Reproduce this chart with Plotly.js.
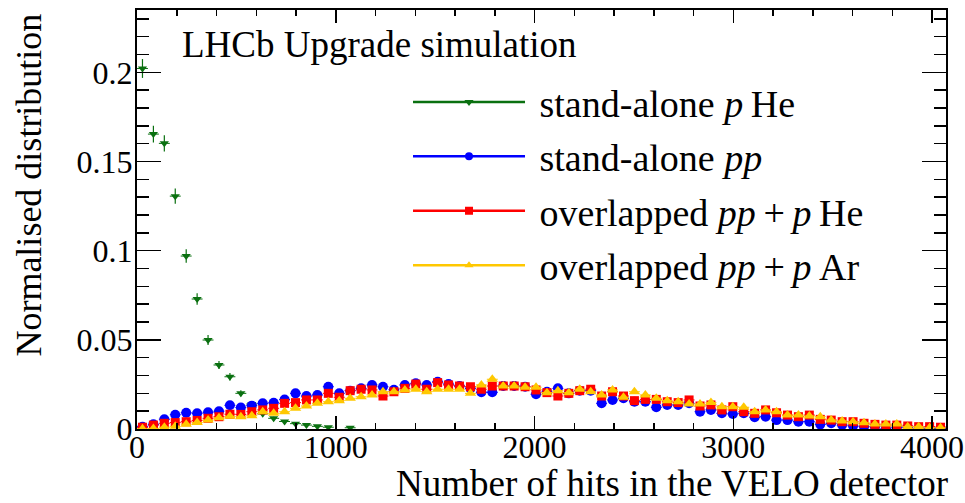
<!DOCTYPE html>
<html><head><meta charset="utf-8">
<script src="https://cdn.plot.ly/plotly-3.0.1.min.js"></script>
<style>body{margin:0;background:#fff}#chart{width:965px;height:503px}</style>
</head><body><div id="chart"></div>
<script>
// Bin centres (bin width 55 hits, 74 bins from 0 to 4070)
const binCenters = [27.5, 82.5, 137.5, 192.5, 247.5, 302.5, 357.5, 412.5, 467.5, 522.5,
  577.5, 632.5, 687.5, 742.5, 797.5, 852.5, 907.5, 962.5, 1017.5, 1072.5,
  1127.5, 1182.5, 1237.5, 1292.5, 1347.5, 1402.5, 1457.5, 1512.5, 1567.5, 1622.5,
  1677.5, 1732.5, 1787.5, 1842.5, 1897.5, 1952.5, 2007.5, 2062.5, 2117.5, 2172.5,
  2227.5, 2282.5, 2337.5, 2392.5, 2447.5, 2502.5, 2557.5, 2612.5, 2667.5, 2722.5,
  2777.5, 2832.5, 2887.5, 2942.5, 2997.5, 3052.5, 3107.5, 3162.5, 3217.5, 3272.5,
  3327.5, 3382.5, 3437.5, 3492.5, 3547.5, 3602.5, 3657.5, 3712.5, 3767.5, 3822.5,
  3877.5, 3932.5, 3987.5, 4042.5];
const halfBin = 27.5;

// stand-alone pHe
const pHeValues = [0.2022, 0.1654, 0.1602, 0.1306, 0.0970, 0.0729, 0.0499, 0.0359, 0.0293, 0.0200,
  0.0140, 0.0085, 0.0060, 0.0042, 0.0030, 0.0022, 0.0015, 0.0010, null, 0.0007];
const pHeErrors = [0.0053, 0.0047, 0.0046, 0.0043, 0.0038, 0.0032, 0.0028, 0.0023, 0.0021, 0.0017,
  0.0014, 0.0011, 0.0009, 0.0008, 0.0006, 0.0005, 0.0004, 0.0003, null, 0.0003];

// stand-alone pp
const ppValues = [0.0013, 0.0026, 0.0055, 0.0080, 0.0091, 0.0088, 0.0094, 0.0100, 0.0133, 0.0120,
  0.0131, 0.0144, 0.0147, 0.0165, 0.0200, 0.0185, 0.0191, 0.0237, 0.0200, 0.0215,
  0.0228, 0.0247, 0.0237, 0.0220, 0.0247, 0.0256, 0.0247, 0.0265, 0.0252, 0.0241,
  0.0228, 0.0206, 0.0206, 0.0241, 0.0241, 0.0237, 0.0195, 0.0209, 0.0228, 0.0200,
  0.0215, 0.0215, 0.0144, 0.0163, 0.0172, 0.0153, 0.0153, 0.0122, 0.0135, 0.0135,
  0.0144, 0.0097, 0.0107, 0.0088, 0.0084, 0.0088, 0.0066, 0.0069, 0.0050, 0.0050,
  0.0041, 0.0041, 0.0026, 0.0032, 0.0022, 0.0017, 0.0013, 0.0013, 0.0002, 0.0010,
  0.0010, 0.0001, 0.0004, 0.0004];

// overlapped pp+pHe
const ppPHeValues = [0.0010, 0.0022, 0.0032, 0.0036, 0.0041, 0.0048, 0.0060, 0.0069, 0.0083, 0.0082,
  0.0097, 0.0107, 0.0116, 0.0144, 0.0148, 0.0163, 0.0163, 0.0200, 0.0178, 0.0215,
  0.0223, 0.0219, 0.0185, 0.0209, 0.0228, 0.0252, 0.0223, 0.0260, 0.0247, 0.0241,
  0.0237, 0.0223, 0.0241, 0.0241, 0.0241, 0.0237, 0.0219, 0.0204, 0.0185, 0.0200,
  0.0215, 0.0223, 0.0185, 0.0209, 0.0185, 0.0159, 0.0166, 0.0166, 0.0153, 0.0148,
  0.0163, 0.0129, 0.0135, 0.0107, 0.0125, 0.0097, 0.0088, 0.0107, 0.0091, 0.0078,
  0.0069, 0.0078, 0.0054, 0.0050, 0.0041, 0.0041, 0.0032, 0.0026, 0.0022, 0.0022,
  0.0017, 0.0013, 0.0013, 0.0010];

// overlapped pp+pAr
const ppPArValues = [0.0001, 0.0003, 0.0010, 0.0015, 0.0027, 0.0036, 0.0050, 0.0063, 0.0071, 0.0069,
  0.0075, 0.0097, 0.0088, 0.0097, 0.0116, 0.0129, 0.0144, 0.0153, 0.0159, 0.0172,
  0.0181, 0.0191, 0.0209, 0.0209, 0.0219, 0.0223, 0.0209, 0.0223, 0.0223, 0.0223,
  0.0200, 0.0247, 0.0279, 0.0241, 0.0241, 0.0234, 0.0234, 0.0204, 0.0215, 0.0204,
  0.0223, 0.0209, 0.0191, 0.0219, 0.0178, 0.0209, 0.0191, 0.0172, 0.0159, 0.0153,
  0.0140, 0.0140, 0.0148, 0.0125, 0.0125, 0.0122, 0.0097, 0.0107, 0.0097, 0.0078,
  0.0078, 0.0073, 0.0069, 0.0050, 0.0045, 0.0041, 0.0035, 0.0028, 0.0028, 0.0028,
  0.0013, 0.0013, 0.0007, 0.0007];

const seriesNames = ['stand-alone <i>p</i>\u2009He', 'stand-alone <i>pp</i>',
  'overlapped <i>pp</i>\u2009+\u2009<i>p</i>\u2009He', 'overlapped <i>pp</i>\u2009+\u2009<i>p</i>\u2009Ar'];
const xTickVals = [0, 1000, 2000, 3000, 4000];
const yTickVals = [0, 0.05, 0.1, 0.15, 0.2];

const GREEN = '#0a7010', BLUE = '#0000ff', RED = '#ff0000', YELLOW = '#ffc800';
const FONT = 'Liberation Serif, Times New Roman, serif';

function dataTrace(y, color, symbol, size, errY) {
  const t = {
    type: 'scatter', mode: 'markers', x: binCenters.slice(0, y.length), y: y,
    showlegend: false, hoverinfo: 'x+y',
    marker: {color: color, symbol: symbol, size: size, line: {width: 0}},
    error_x: {type: 'constant', value: halfBin, color: color, thickness: 1, width: 0}
  };
  if (errY) t.error_y = {type: 'data', array: errY, color: color, thickness: 1.2, width: 0};
  return t;
}
function legendTrace(name, color, symbol, size, group) {
  return {type: 'scatter', mode: 'lines+markers', x: [null], y: [null],
    name: '\u00A0' + name, legendgroup: group,
    line: {color: color, width: 2.5}, marker: {color: color, symbol: symbol, size: size}};
}

const traces = [
  dataTrace(pHeValues, GREEN, 'triangle-down', 8, pHeErrors),
  dataTrace(ppValues, BLUE, 'circle', 10),
  dataTrace(ppPHeValues, RED, 'square', 9),
  dataTrace(ppPArValues, YELLOW, 'triangle-up', 10),
  legendTrace(seriesNames[0], GREEN, 'triangle-down', 8, 'g1'),
  legendTrace(seriesNames[1], BLUE, 'circle', 8, 'g2'),
  legendTrace(seriesNames[2], RED, 'square', 8, 'g3'),
  legendTrace(seriesNames[3], YELLOW, 'triangle-up', 8, 'g4')
];

const axisCommon = {
  showline: true, linecolor: '#000', linewidth: 2, mirror: 'ticks',
  ticks: 'inside', tickcolor: '#000', tickwidth: 1.5,
  showgrid: false, zeroline: false, fixedrange: true,
  ticklabeloverflow: 'allow',
  tickfont: {family: FONT, size: 32, color: '#000'}
};

const layout = {
  width: 965, height: 503,
  margin: {l: 137, r: 19, t: 10, b: 74},
  paper_bgcolor: '#fff', plot_bgcolor: '#fff',
  font: {family: FONT, size: 36, color: '#000'},
  xaxis: Object.assign({}, axisCommon, {
    range: [0, 4070], tickvals: xTickVals, ticklen: 13, ticklabelstandoff: -11,
    minor: {dtick: 200, tick0: 0, ticklen: 6, ticks: 'inside', tickcolor: '#000', tickwidth: 1.5}
  }),
  yaxis: Object.assign({}, axisCommon, {
    range: [0, 0.235], tickvals: yTickVals, ticklen: 24, ticklabelstandoff: -4,
    minor: {dtick: 0.01, tick0: 0, ticklen: 12, ticks: 'inside', tickcolor: '#000', tickwidth: 1.5}
  }),
  showlegend: true,
  legend: {
    x: 0.335, y: 0.855, xanchor: 'left', yanchor: 'top',
    bgcolor: 'rgba(0,0,0,0)', borderwidth: 0,
    font: {family: FONT, size: 38, color: '#000'},
    itemwidth: 112, tracegroupgap: 2
  },
  annotations: [
    {text: 'LHCb Upgrade simulation', xref: 'paper', yref: 'paper',
     x: (180 - 137) / 809, y: (429 - 22) / 419, xanchor: 'left', yanchor: 'top',
     showarrow: false, font: {family: FONT, size: 37, color: '#000'}},
    {text: 'Number of hits in the VELO detector', xref: 'paper', yref: 'paper',
     x: 1.005, y: -0.076, xanchor: 'right', yanchor: 'top',
     showarrow: false, font: {family: FONT, size: 37, color: '#000'}},
    {text: 'Normalised distribution', xref: 'paper', yref: 'paper', textangle: -90,
     x: (29 - 137) / 809, y: 0.995, xanchor: 'center', yanchor: 'top',
     showarrow: false, font: {family: FONT, size: 36, color: '#000'}}
  ]
};

Plotly.newPlot('chart', traces, layout, {displayModeBar: false, staticPlot: true});
</script>
</body></html>
